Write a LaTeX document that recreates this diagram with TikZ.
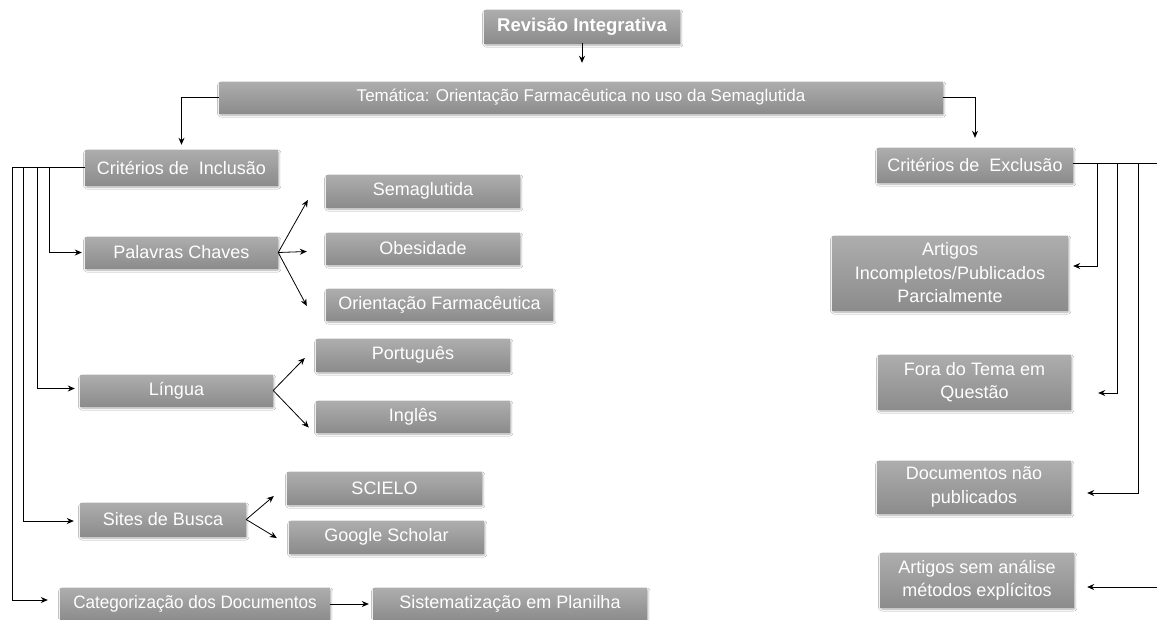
\documentclass[tikz,border=0pt]{standalone}
\usepackage{fontspec}
\setmainfont{Liberation Sans}
\usetikzlibrary{arrows.meta,calc,shadows.blur}
\definecolor{boxtop}{HTML}{ADADAD}
\definecolor{boxbot}{HTML}{8C8C8C}
\tikzset{
  box/.style={rectangle, top color=boxtop, bottom color=boxbot, draw=none,
    text=white, font=\fontsize{18}{23.5}\selectfont, align=center, inner sep=2pt,
    blur shadow={shadow xshift=0.8pt, shadow yshift=-2pt, shadow opacity=35, shadow blur steps=6, shadow blur extra rounding=1pt}},
  arr/.style={-{Stealth[length=7pt,width=6pt]}, line width=0.8pt, black},
  ln/.style={line width=0.8pt, black},
}
\begin{document}
\begin{tikzpicture}[x=1pt,y=-1pt]
\useasboundingbox[fill=white] (0,0) rectangle (1158,619);
% nodes
\node[box, font=\fontsize{18.5}{20}\selectfont\bfseries, minimum width=196pt, minimum height=33pt] (rev) at (582,26.5) {Revisão Integrativa};
\node[box, font=\fontsize{17}{19}\selectfont, minimum width=724pt, minimum height=31pt] (tem) at (581,97.5) {Temática: Orientação Farmacêutica no uso da Semaglutida};
\node[box, minimum width=193pt, minimum height=35pt] (inc) at (181.5,167.5) {Critérios de\ \ Inclusão};
\node[box, minimum width=196pt, minimum height=34pt] (exc) at (975,165) {Critérios de\ \ Exclusão};
\node[box, minimum width=193pt, minimum height=31pt] (pal) at (181.5,252.5) {Palavras Chaves};
\node[box, minimum width=194pt, minimum height=32pt] (sem) at (423,191) {Semaglutida};
\node[box, minimum width=194pt, minimum height=31pt] (obe) at (423,248.5) {Obesidade};
\node[box, minimum width=227pt, minimum height=31pt] (ori) at (439.5,304.5) {Orientação Farmacêutica};
\node[box, minimum width=193pt, minimum height=31pt] (lin) at (176.5,390.5) {Língua};
\node[box, minimum width=194pt, minimum height=32pt] (por) at (413,355) {Português};
\node[box, minimum width=194pt, minimum height=31pt] (ing) at (413,416.5) {Inglês};
\node[box, minimum width=166pt, minimum height=33pt] (sit) at (163,519.5) {Sites de Busca};
\node[box, minimum width=195pt, minimum height=32pt] (sci) at (384.5,488) {SCIELO};
\node[box, minimum width=195pt, minimum height=32pt] (goo) at (386.5,537) {Google Scholar};
\node[box, minimum width=270pt, minimum height=32pt] (cat) at (195,604) {\scalebox{0.95}[1]{Categorização dos Documentos}};
\node[box, minimum width=274pt, minimum height=32pt] (sis) at (510,604) {Sistematização em Planilha};
\node[box, minimum width=236pt, minimum height=74pt] (art) at (950,273) {Artigos\\Incompletos/Publicados\\Parcialmente};
\node[box, minimum width=193pt, minimum height=54pt] (fora) at (974.5,382) {Fora do Tema em\\Questão};
\node[box, minimum width=194pt, minimum height=52pt] (doc) at (974,487) {Documentos não\\publicados};
\node[box, minimum width=194pt, minimum height=54pt] (sa) at (977,580) {Artigos sem análise\\métodos explícitos};
\coordinate (R1) at (1157,163);
\coordinate (R2) at (1157,587);
% top connectors
\draw[arr, shorten >=19pt] (rev.south) -- (rev.south |- tem.north);
\draw[arr, shorten >=5pt] (tem.west) -| (inc.north);
\draw[arr, shorten >=10pt] (tem.east) -| (exc.north);
% left tree
\draw[ln] (inc.west) -- (12,167.5);
\draw[arr, shorten >=3pt] (49,167.5) |- (pal.west);
\draw[arr, shorten >=5pt] (37,167.5) |- ([yshift=2pt]lin.west);
\draw[arr, shorten >=6pt] (23,167.5) |- ([yshift=-1.5pt]sit.west);
\draw[arr, shorten >=12pt] (12,167.5) |- ([yshift=4pt]cat.west);
\draw[arr, shorten >=4pt] (cat.east) -- (sis.west);
% fans
\draw[arr] (pal.east) -- ($(sem.west)+(-18,9)$);
\draw[arr] (pal.east) -- ($(obe.west)+(-19,3)$);
\draw[arr] (pal.east) -- ($(ori.west)+(-19,1.5)$);
\draw[arr] (lin.east) -- ($(por.west)+(-11,3)$);
\draw[arr] (lin.east) -- ($(ing.west)+(-7,11)$);
\draw[arr] (sit.east) -- ($(sci.west)+(-13,8)$);
\draw[arr] (sit.east) -- ($(goo.west)+(-12,1)$);
% right tree
\draw[ln] ([yshift=2pt]exc.east) -- (R1);
\draw[arr, shorten >=5pt] (1097,163) |- ([yshift=7pt]art.east);
\draw[arr, shorten >=27pt] (1117,163) |- ([yshift=-11pt]fora.east);
\draw[arr, shorten >=16pt] (1138,163) |- ([yshift=-6pt]doc.east);
\draw[arr, shorten >=13pt] (R2) -- (R2 -| sa.east);
\end{tikzpicture}
\end{document}
